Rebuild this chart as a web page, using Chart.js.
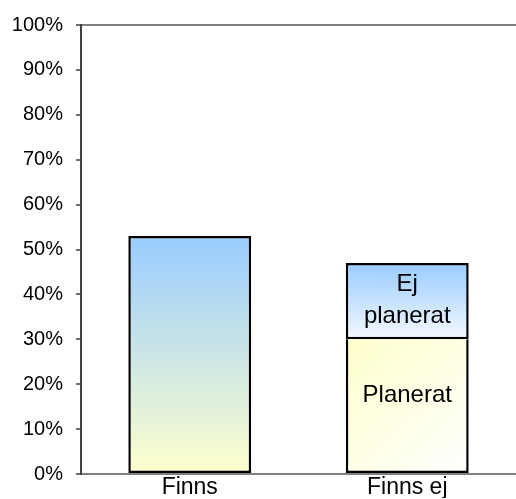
<!DOCTYPE html>
<html>
<head>
<meta charset="utf-8">
<script src="https://cdn.jsdelivr.net/npm/chart.js@4/dist/chart.umd.min.js"></script>
<style>
  html, body { margin: 0; padding: 0; background: #ffffff; }
  #wrap { width: 516px; height: 499px; }
</style>
</head>
<body>
<div id="wrap"><canvas id="c"></canvas></div>
<script>
// Categories and stacked series (percent)
const categories = ['Finns', 'Finns ej'];
const finns = [53, null];
const planerat = [null, 30];
const ejPlanerat = [null, 17];
const yTicks = [0, 10, 20, 30, 40, 50, 60, 70, 80, 90, 100];

const FONT = '"Liberation Sans", Arial, sans-serif';
const BAR_PCT = 0.565;
const seriesList = [finns, planerat, ejPlanerat];

// Pixel bounds of one stacked segment, taken from the scales
function segmentBounds(chart, dsIndex, idx) {
  const xs = chart.scales.x, ys = chart.scales.y;
  if (!xs || !ys) return null;
  let start = 0;
  for (let i = 0; i < dsIndex; i++) start += seriesList[i][idx] || 0;
  const end = start + (seriesList[dsIndex][idx] || 0);
  const cx = xs.getPixelForValue(idx);
  const half = (xs.width / categories.length) * BAR_PCT / 2;
  const top = ys.getPixelForValue(end);
  const base = ys.getPixelForValue(start);
  if (![cx, half, top, base].every(Number.isFinite)) return null;
  return { left: cx - half, right: cx + half, top, base, cx };
}

function segmentFill(kind) {
  return function (ctx) {
    const chart = ctx.chart;
    if (!chart.chartArea || ctx.type !== 'data') return '#cfe3f7';
    const b = segmentBounds(chart, ctx.datasetIndex, ctx.dataIndex);
    if (!b || b.top === b.base) return '#cfe3f7';
    const g = chart.ctx;
    let grad;
    if (kind === 'finns') {
      grad = g.createLinearGradient(0, b.top, 0, b.base);
      grad.addColorStop(0, '#99ccff');
      grad.addColorStop(1, '#ffffcc');
    } else if (kind === 'ej') {
      grad = g.createLinearGradient(0, b.top, 0, b.base);
      grad.addColorStop(0, '#99ccff');
      grad.addColorStop(1, '#f4f8ff');
    } else {
      grad = g.createLinearGradient(b.left, b.top, b.right, b.base);
      grad.addColorStop(0, '#ffffcc');
      grad.addColorStop(1, '#ffffff');
    }
    return grad;
  };
}

// Text written inside the stacked segments
const segmentLabels = {
  id: 'segmentLabels',
  afterDatasetsDraw(chart) {
    const g = chart.ctx;
    g.save();
    g.fillStyle = '#000000';
    g.font = '24px ' + FONT;
    g.textAlign = 'center';
    g.textBaseline = 'middle';
    const pl = segmentBounds(chart, 1, 1);
    if (pl) g.fillText('Planerat', pl.cx, (pl.top + pl.base) / 2 - 11);
    const ej = segmentBounds(chart, 2, 1);
    if (ej) {
      const mid = (ej.top + ej.base) / 2;
      g.fillText('Ej', ej.cx, mid - 17);
      g.fillText('planerat', ej.cx, mid + 15);
    }
    g.restore();
  }
};

const barStyle = {
  borderColor: '#000000',
  borderWidth: 2.5,
  categoryPercentage: 1,
  barPercentage: BAR_PCT
};

new Chart(document.getElementById('c'), {
  type: 'bar',
  data: {
    labels: categories,
    datasets: [
      Object.assign({ label: 'Finns', data: finns, backgroundColor: segmentFill('finns'), borderSkipped: false }, barStyle),
      Object.assign({ label: 'Planerat', data: planerat, backgroundColor: segmentFill('planerat'), borderSkipped: 'top' }, barStyle),
      Object.assign({ label: 'Ej planerat', data: ejPlanerat, backgroundColor: segmentFill('ej'), borderSkipped: false }, barStyle)
    ]
  },
  options: {
    responsive: true,
    maintainAspectRatio: false,
    animation: false,
    layout: { padding: { top: 14, right: 0, left: 9, bottom: 0 } },
    plugins: {
      legend: { display: false },
      tooltip: { enabled: false }
    },
    scales: {
      x: {
        stacked: true,
        afterFit(scale) { scale.height = 24; },
        grid: { display: false, drawTicks: false },
        border: { color: '#808080', width: 2 },
        ticks: { color: '#000000', font: { family: FONT, size: 23, lineHeight: 1 }, padding: 2 }
      },
      y: {
        stacked: true,
        min: 0,
        max: 100,
        afterFit(scale) { scale.width = 72; },
        afterBuildTicks(axis) { axis.ticks = yTicks.map(v => ({ value: v })); },
        grid: {
          color: c => (c.tick && c.tick.value === 100 ? '#808080' : 'rgba(0,0,0,0)'),
          lineWidth: 2,
          tickColor: '#404040',
          tickLength: 5,
          tickWidth: 1.5
        },
        border: { color: '#404040', width: 2 },
        ticks: {
          color: '#000000',
          font: { family: FONT, size: 20 },
          padding: 13,
          callback: v => v + '%'
        }
      }
    }
  },
  plugins: [segmentLabels]
});
</script>
</body>
</html>
